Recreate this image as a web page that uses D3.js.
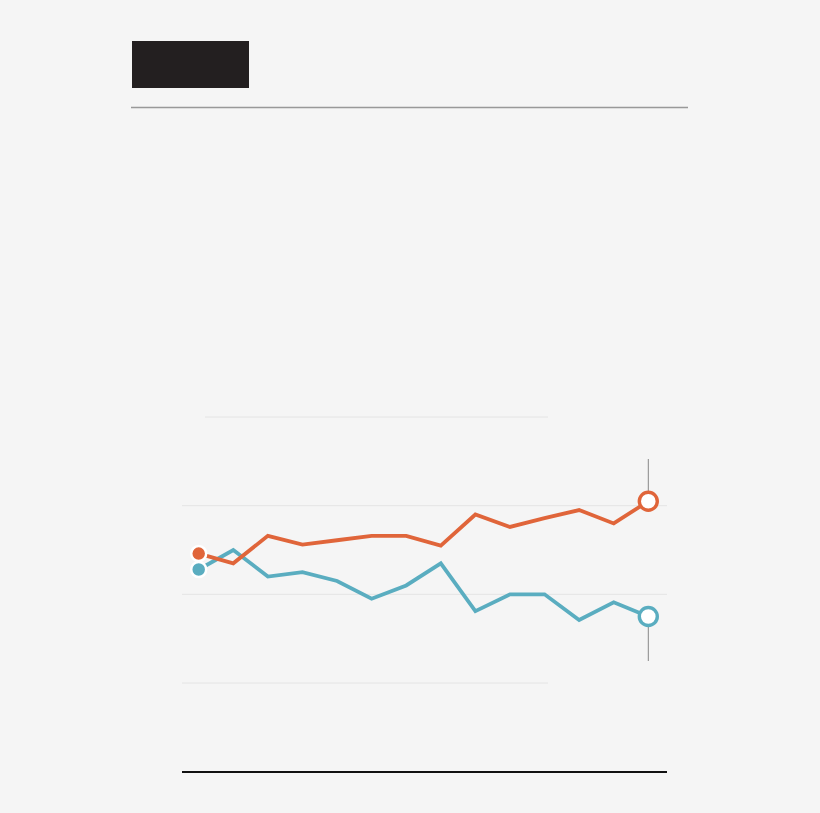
<!DOCTYPE html>
<html>
<head>
<meta charset="utf-8">
<script src="https://cdn.jsdelivr.net/npm/d3@7"></script>
<style>
  html, body { margin: 0; padding: 0; background: #f5f5f5; }
</style>
</head>
<body>
<div id="chart"></div>
<script>
// values (unlabelled chart, arbitrary units)
const periods = d3.range(14);
const orangeValues = [44.6, 43.5, 46.6, 45.6, 46.1, 46.6, 46.6, 45.5, 49.0, 47.6, 48.6, 49.5, 48.0, 50.5];
const blueValues   = [42.8, 45.0, 42.0, 42.5, 41.5, 39.5, 41.0, 43.5, 38.1, 40.0, 40.0, 37.1, 39.1, 37.5];
const gridValues = [60, 50, 40, 30];

const width = 820, height = 813;

const svg = d3.select("#chart")
  .append("svg")
  .attr("width", width)
  .attr("height", height)
  .attr("viewBox", [0, 0, width, height]);

svg.append("rect")
  .attr("width", width)
  .attr("height", height)
  .attr("fill", "#f5f5f5");

// header block + rule
svg.append("rect")
  .attr("x", 132).attr("y", 41)
  .attr("width", 117).attr("height", 47)
  .attr("fill", "#231f20");

svg.append("line")
  .attr("x1", 131).attr("x2", 688)
  .attr("y1", 107.5).attr("y2", 107.5)
  .attr("stroke", "#999")
  .attr("stroke-width", 1.5);

let x = d3.scaleLinear()
  .domain([0, 13])
  .range([198.7, 648.3]);

let y = d3.scaleLinear()
  .domain([30, 60])
  .range([683, 417]);

// gridlines: outer ones are shorter
svg.append("g")
  .selectAll("line")
  .data(gridValues)
  .join("line")
    .attr("x1", (d, i) => i === 0 ? 205 : 182)
    .attr("x2", (d, i) => (i === 0 || i === 3) ? 548 : 667)
    .attr("y1", d => y(d))
    .attr("y2", d => y(d))
    .attr("stroke", "#e4e4e4")
    .attr("stroke-width", 1);

// bottom baseline
svg.append("line")
  .attr("x1", 182).attr("x2", 667)
  .attr("y1", 772).attr("y2", 772)
  .attr("stroke", "#111")
  .attr("stroke-width", 2);

const orange = "#e0653a", blue = "#5aadc0";

// leader lines at the last point
svg.append("line")
  .attr("x1", x(13)).attr("x2", x(13))
  .attr("y1", 459).attr("y2", y(orangeValues[13]))
  .attr("stroke", "#888").attr("stroke-width", 1);
svg.append("line")
  .attr("x1", x(13)).attr("x2", x(13))
  .attr("y1", y(blueValues[13])).attr("y2", 661)
  .attr("stroke", "#888").attr("stroke-width", 1);

let line = d3.line()
  .x((d, i) => x(periods[i]))
  .y(d => y(d));

svg.append("path")
  .datum(blueValues)
  .attr("d", line)
  .attr("fill", "none")
  .attr("stroke", blue)
  .attr("stroke-width", 3.8)
  .attr("stroke-linejoin", "miter");

svg.append("path")
  .datum(orangeValues)
  .attr("d", line)
  .attr("fill", "none")
  .attr("stroke", orange)
  .attr("stroke-width", 3.8)
  .attr("stroke-linejoin", "miter");

// start dots
[[orangeValues, orange], [blueValues, blue]].forEach(([vals, col]) => {
  svg.append("circle")
    .attr("cx", x(0))
    .attr("cy", y(vals[0]))
    .attr("r", 7.5)
    .attr("fill", col)
    .attr("stroke", "#fff")
    .attr("stroke-width", 2.5);
});

// end rings
[[orangeValues, orange], [blueValues, blue]].forEach(([vals, col]) => {
  svg.append("circle")
    .attr("cx", x(13))
    .attr("cy", y(vals[13]))
    .attr("r", 9)
    .attr("fill", "#fff")
    .attr("stroke", col)
    .attr("stroke-width", 3.4);
});
</script>
</body>
</html>
